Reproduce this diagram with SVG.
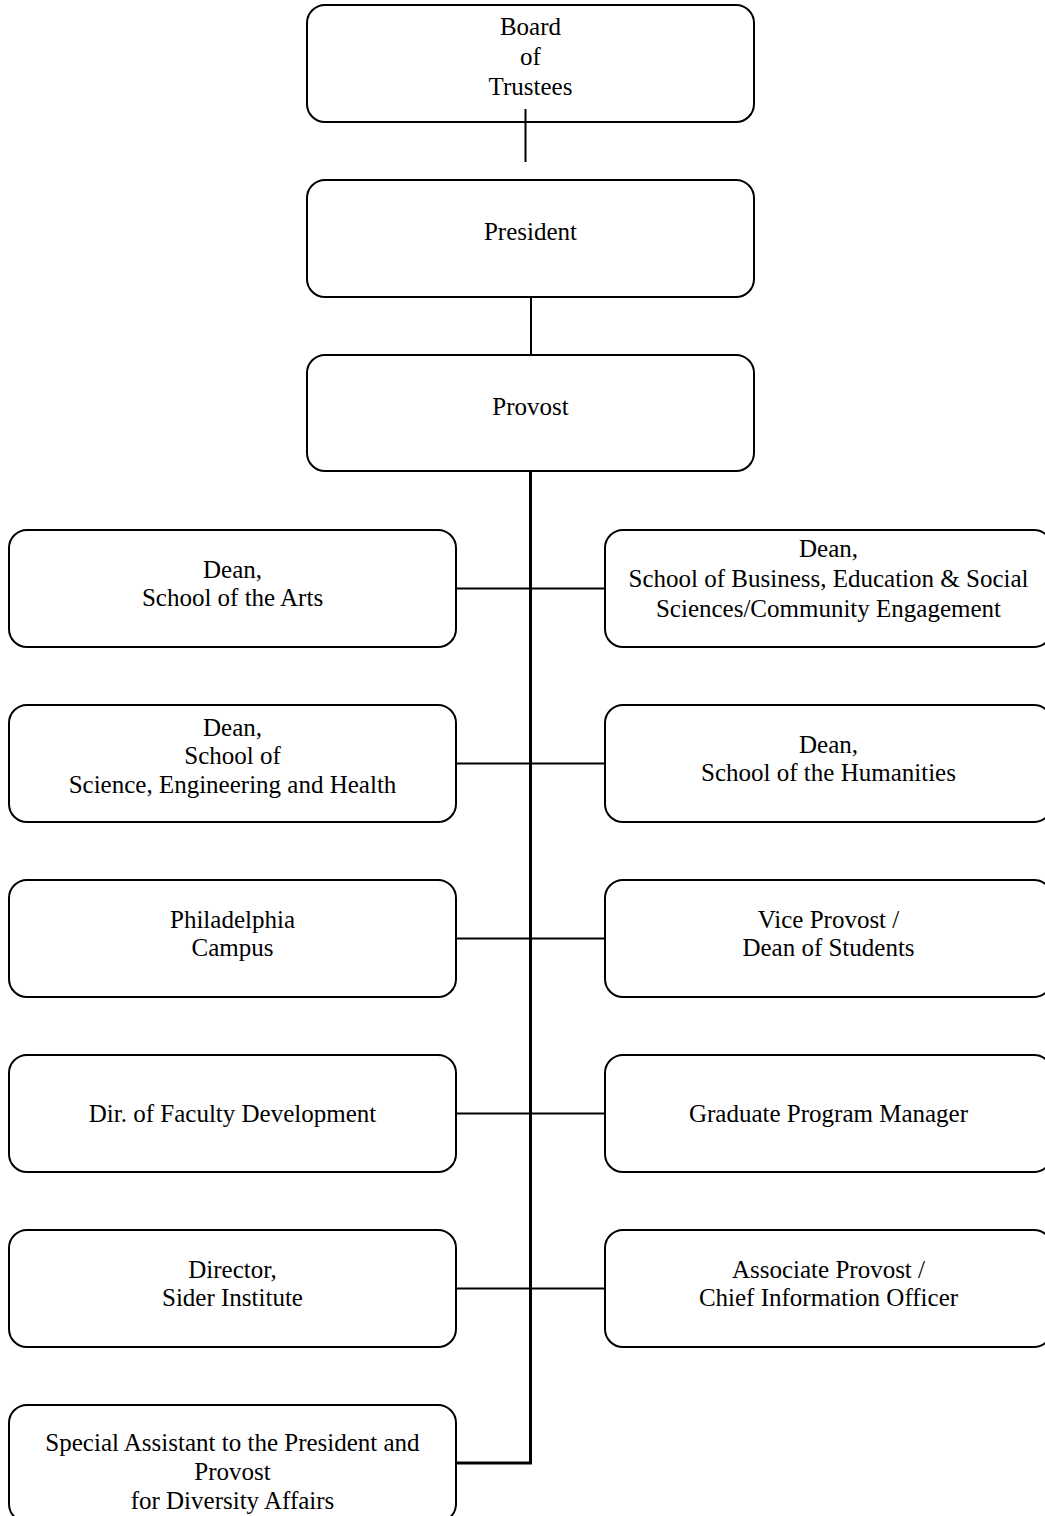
<svg xmlns="http://www.w3.org/2000/svg" width="1045" height="1516" viewBox="0 0 1045 1516">
<style>
.box{fill:#fff;stroke:#000;stroke-width:2}
.t{font-family:"Liberation Serif","Times New Roman",serif;font-size:25px;fill:#000;text-anchor:middle}
.c{stroke:#000;stroke-width:2;fill:none}
.k{stroke:#000;stroke-width:3;fill:none}
</style>
<rect width="1045" height="1516" fill="#fff"/>
<g id="board">
<rect class="box" x="307" y="5" width="447" height="117" rx="18"/>
<text class="t" x="530.5" y="35">Board</text>
<text class="t" x="530.5" y="65">of</text>
<text class="t" x="530.5" y="95">Trustees</text>
</g>
<g id="president">
<rect class="box" x="307" y="180" width="447" height="117" rx="18"/>
<text class="t" x="530.5" y="240">President</text>
</g>
<g id="provost">
<rect class="box" x="307" y="355" width="447" height="116" rx="18"/>
<text class="t" x="530.5" y="415">Provost</text>
</g>
<g id="dean-arts">
<rect class="box" x="9" y="530" width="447" height="117" rx="18"/>
<text class="t" x="232.5" y="578">Dean,</text>
<text class="t" x="232.5" y="606">School of the Arts</text>
</g>
<g id="dean-business">
<rect class="box" x="605" y="530" width="447" height="117" rx="18"/>
<text class="t" x="828.5" y="557">Dean,</text>
<text class="t" x="828.5" y="587">School of Business, Education &amp; Social</text>
<text class="t" x="828.5" y="617">Sciences/Community Engagement</text>
</g>
<g id="dean-science">
<rect class="box" x="9" y="705" width="447" height="117" rx="18"/>
<text class="t" x="232.5" y="736">Dean,</text>
<text class="t" x="232.5" y="764">School of</text>
<text class="t" x="232.5" y="793">Science, Engineering and Health</text>
</g>
<g id="dean-humanities">
<rect class="box" x="605" y="705" width="447" height="117" rx="18"/>
<text class="t" x="828.5" y="753">Dean,</text>
<text class="t" x="828.5" y="781">School of the Humanities</text>
</g>
<g id="philadelphia">
<rect class="box" x="9" y="880" width="447" height="117" rx="18"/>
<text class="t" x="232.5" y="928">Philadelphia</text>
<text class="t" x="232.5" y="956">Campus</text>
</g>
<g id="vice-provost">
<rect class="box" x="605" y="880" width="447" height="117" rx="18"/>
<text class="t" x="828.5" y="928">Vice Provost /</text>
<text class="t" x="828.5" y="956">Dean of Students</text>
</g>
<g id="faculty-dev">
<rect class="box" x="9" y="1055" width="447" height="117" rx="18"/>
<text class="t" x="232.5" y="1122">Dir. of Faculty Development</text>
</g>
<g id="graduate">
<rect class="box" x="605" y="1055" width="447" height="117" rx="18"/>
<text class="t" x="828.5" y="1122">Graduate Program Manager</text>
</g>
<g id="sider">
<rect class="box" x="9" y="1230" width="447" height="117" rx="18"/>
<text class="t" x="232.5" y="1278">Director,</text>
<text class="t" x="232.5" y="1306">Sider Institute</text>
</g>
<g id="assoc-provost">
<rect class="box" x="605" y="1230" width="447" height="117" rx="18"/>
<text class="t" x="828.5" y="1278">Associate Provost /</text>
<text class="t" x="828.5" y="1306">Chief Information Officer</text>
</g>
<g id="special-assistant">
<rect class="box" x="9" y="1405" width="447" height="117" rx="18"/>
<text class="t" x="232.5" y="1451">Special Assistant to the President and</text>
<text class="t" x="232.5" y="1480">Provost</text>
<text class="t" x="232.5" y="1509">for Diversity Affairs</text>
</g>
<g id="connectors">
<line class="c" x1="525.5" y1="109" x2="525.5" y2="162"/>
<line class="c" x1="531" y1="297" x2="531" y2="355"/>
<polyline class="k" points="530.5,471 530.5,1463 456,1463"/>
<line class="c" x1="456" y1="588.5" x2="605" y2="588.5"/>
<line class="c" x1="456" y1="763.5" x2="605" y2="763.5"/>
<line class="c" x1="456" y1="938.5" x2="605" y2="938.5"/>
<line class="c" x1="456" y1="1113.5" x2="605" y2="1113.5"/>
<line class="c" x1="456" y1="1288.5" x2="605" y2="1288.5"/>
</g>
</svg>
